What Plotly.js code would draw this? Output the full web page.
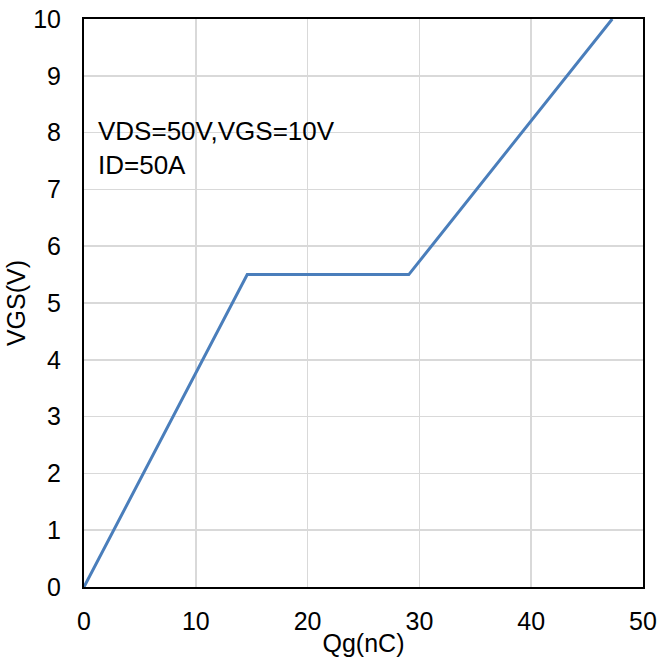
<!DOCTYPE html>
<html>
<head>
<meta charset="utf-8">
<script src="https://cdn.plot.ly/plotly-3.0.1.min.js"></script>
<style>html,body{margin:0;padding:0;background:#fff;}#chart{width:661px;height:663px;}</style>
</head>
<body>
<div id="chart"></div>
<script>
const qg = [0, 14.6, 29.05, 47.25];
const vgs = [0, 5.5, 5.5, 10];
const xTicks = [0, 10, 20, 30, 40, 50];
const yTicks = [0, 1, 2, 3, 4, 5, 6, 7, 8, 9, 10];
const noteLines = ["VDS=50V,VGS=10V", "ID=50A"];

const font = {family: "Liberation Sans, Arial, sans-serif", size: 25, color: "#000"};
const noteFont = {family: "Liberation Sans, Arial, sans-serif", size: 26, color: "#000"};
Plotly.newPlot("chart", [{
  x: qg, y: vgs, type: "scatter", mode: "lines",
  line: {color: "#4a7ebb", width: 3}, hoverinfo: "none"
}], {
  width: 661, height: 663,
  margin: {l: 84, r: 18, t: 19, b: 76},
  paper_bgcolor: "#fff", plot_bgcolor: "#fff",
  font: font,
  showlegend: false,
  xaxis: {
    range: [0, 50], tickvals: xTicks, ticktext: xTicks.map(String),
    showgrid: true, gridcolor: "#d9d9d9", gridwidth: 1.5,
    showline: true, linecolor: "#000", linewidth: 2, mirror: true,
    zeroline: false, ticks: "", ticklen: 0, ticklabelstandoff: 11,
    tickfont: font,
    title: {text: "Qg(nC)", font: font, standoff: 0}
  },
  yaxis: {
    range: [0, 10], tickvals: yTicks, ticktext: yTicks.map(String),
    showgrid: true, gridcolor: "#d9d9d9", gridwidth: 1.5,
    showline: true, linecolor: "#000", linewidth: 2, mirror: true,
    zeroline: false, ticks: "", ticklen: 0, ticklabelstandoff: 16,
    tickfont: font,
    title: {text: "VGS(V)", font: font, standoff: 0}
  },
  annotations: [{
    xref: "paper", yref: "paper", x: 0.022, y: 0.832, xanchor: "left", yanchor: "top",
    text: noteLines.join("<br>"), align: "left", showarrow: false, font: noteFont
  }]
}, {staticPlot: true});
</script>
</body>
</html>
